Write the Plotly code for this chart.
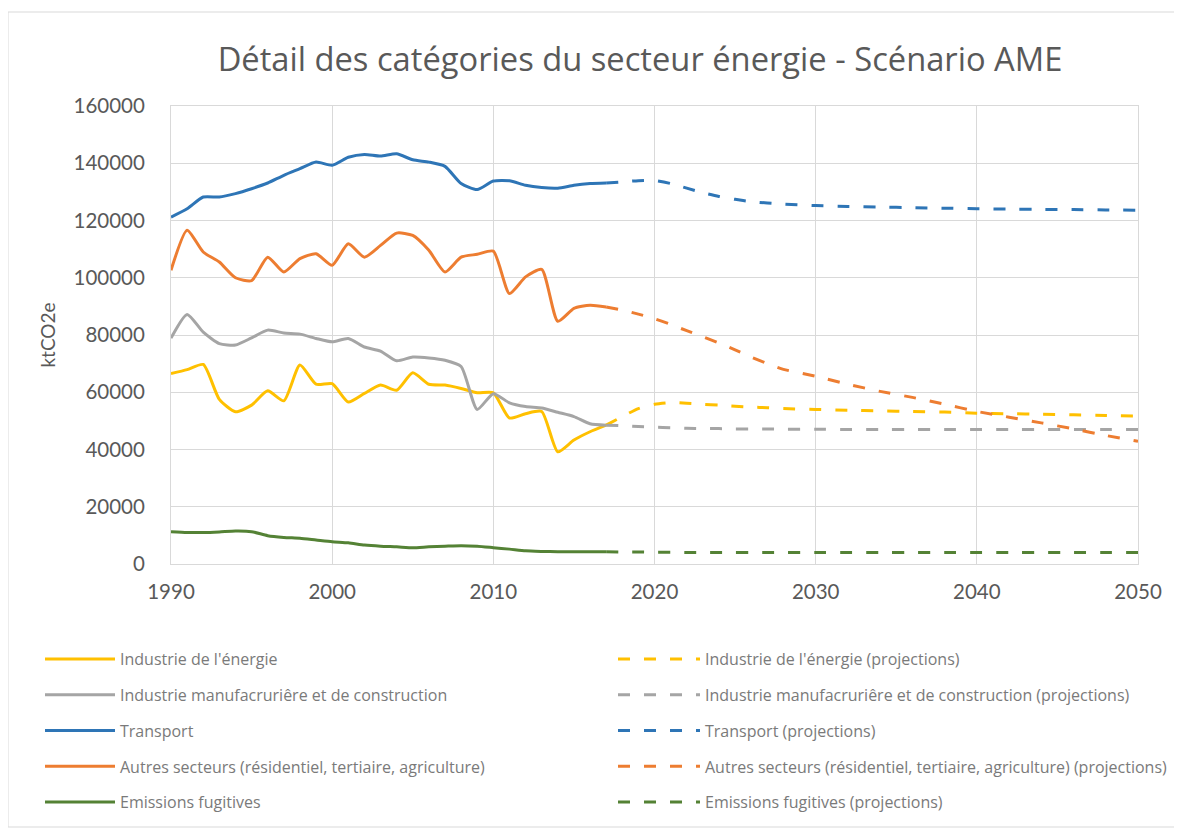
import plotly.graph_objects as go

years_hist = list(range(1990, 2018))
years_proj = [2017, 2018, 2019, 2020, 2021, 2022, 2023, 2024, 2025, 2026, 2027, 2028,
              2030, 2032, 2034, 2036, 2038, 2040, 2042, 2044, 2046, 2048, 2050]

energie_hist = [66500, 67900, 69700, 57500, 53200, 55500, 60500, 57000, 69500, 62800,
                63000, 56600, 59600, 62500, 60700, 66800, 62800, 62500, 61300, 59800,
                59800, 51000, 52500, 53300, 39200, 43300, 46200, 48500]
manuf_hist = [78900, 87200, 81000, 77000, 76500, 79000, 81700, 80700, 80300, 78800,
              77600, 78800, 75800, 74400, 71000, 72300, 72000, 71200, 69000, 54000,
              59500, 56300, 55000, 54500, 53000, 51500, 49000, 48500]
transport_hist = [121200, 124100, 128200, 128200, 129400, 131100, 133100, 135800, 138100, 140400,
                  139300, 142100, 143100, 142500, 143300, 141200, 140400, 138900, 132900, 130800,
                  133800, 133900, 132300, 131500, 131300, 132300, 132900, 133100]
autres_hist = [102600, 116600, 109000, 105500, 100000, 99000, 107200, 102000, 106700, 108400,
               104400, 111900, 107200, 111300, 115600, 114800, 109600, 102000, 107200, 108200,
               109300, 94500, 100300, 102900, 84800, 89300, 90400, 89800]
fugitives_hist = [11300, 11000, 11000, 11200, 11500, 11300, 9900, 9300, 9000, 8400,
                  7800, 7400, 6600, 6200, 6000, 5700, 6000, 6200, 6400, 6200,
                  5700, 5200, 4600, 4400, 4300, 4300, 4300, 4300]

energie_proj = [48500, 51500, 54300, 55800, 56400, 56200, 55800, 55500, 55100, 54800, 54600, 54300,
                54000, 53700, 53500, 53300, 53100, 52700, 52500, 52300, 52100, 51900, 51700]
manuf_proj = [48500, 48300, 48000, 47800, 47600, 47400, 47300, 47300, 47200, 47200, 47200, 47100,
              47100, 47000, 47000, 47000, 47000, 47000, 47000, 47000, 47000, 47000, 47000]
transport_proj = [133100, 133500, 133900, 134000, 132900, 131300, 129700, 128400, 127400, 126600, 126100, 125700,
                  125200, 124900, 124700, 124500, 124300, 124100, 124000, 123900, 123800, 123700, 123600]
autres_proj = [89800, 88700, 87300, 85700, 83700, 81500, 79400, 77200, 74800, 72300, 70000, 68000,
               65600, 62800, 60300, 58200, 55800, 53300, 51300, 49300, 47200, 44900, 42900]
fugitives_proj = [4300, 4200, 4200, 4100, 4100, 4000, 4000, 4000, 4000, 4000, 4000, 4000,
                  4000, 4000, 4000, 4000, 4000, 4000, 4000, 4000, 4000, 4000, 4000]

names = ["Industrie de l'énergie",
         "Industrie manufacruriêre et de construction",
         "Transport",
         "Autres secteurs (résidentiel, tertiaire, agriculture)",
         "Emissions fugitives"]
colors = ["#FFC000", "#A5A5A5", "#2E75B6", "#ED7D31", "#548235"]
hist = [energie_hist, manuf_hist, transport_hist, autres_hist, fugitives_hist]
proj = [energie_proj, manuf_proj, transport_proj, autres_proj, fugitives_proj]

fig = go.Figure()
for i in range(5):
    fig.add_trace(go.Scatter(
        x=years_hist, y=hist[i], name=names[i], mode="lines",
        line=dict(color=colors[i], width=3, shape="spline", smoothing=0.6),
        legend="legend", legendgroup="h%d" % i, legendrank=i))
for i in range(5):
    fig.add_trace(go.Scatter(
        x=years_proj, y=proj[i], name=names[i] + " (projections)", mode="lines",
        line=dict(color=colors[i], width=3, shape="spline", smoothing=0.6, dash="12px,14px"),
        legend="legend2", legendgroup="p%d" % i, legendrank=i))

# target positions are given in screen pixels; the page body adds an 8px offset
OFF = 8
L, R, T, B = 171 - OFF, 44 + OFF, 106 - OFF, 265 + OFF
W, H = 1182, 829
pw, ph = W - L - R, H - T - B

def px_x(px):
    return (px - OFF - L) / pw

def px_y(py):
    return (H - B - (py - OFF)) / ph

legend_font = dict(family="Open Sans, sans-serif", size=16, color="#7A7A7A")
fig.update_layout(
    width=W, height=H,
    margin=dict(l=L, r=R, t=T, b=B, autoexpand=False),
    paper_bgcolor="white", plot_bgcolor="white",
    title=dict(text="Détail des catégories du secteur énergie - Scénario AME",
               font=dict(family="Open Sans, sans-serif", size=32.7, color="#595959"),
               x=(640 - OFF) / W, xanchor="center", xref="container",
               y=1 - (60 - OFF) / H, yanchor="middle", yref="container"),
    xaxis=dict(range=[1990, 2050], dtick=10, tick0=1990,
               showgrid=True, gridcolor="#D9D9D9", gridwidth=1,
               showline=True, linecolor="#D9D9D9", mirror=True,
               zeroline=False, ticks="", ticklabelstandoff=9,
               tickfont=dict(family="Lato, sans-serif", size=20.5, color="#595959")),
    yaxis=dict(range=[0, 160000], dtick=20000, tickformat="d",
               showgrid=True, gridcolor="#D9D9D9", gridwidth=1,
               showline=True, linecolor="#D9D9D9", mirror=True,
               zeroline=False, ticks="", ticklabelstandoff=21,
               tickfont=dict(family="Lato, sans-serif", size=20.5, color="#595959"),
               title=dict(text="ktCO2e", standoff=12,
                          font=dict(family="Lato, sans-serif", size=19, color="#595959"))),
    legend=dict(x=px_x(40), y=px_y(642), xanchor="left", yanchor="top",
                orientation="v", traceorder="grouped", tracegroupgap=12,
                itemwidth=70, font=legend_font, bgcolor="rgba(0,0,0,0)"),
    legend2=dict(x=px_x(613), y=px_y(642), xanchor="left", yanchor="top",
                 orientation="v", traceorder="grouped", tracegroupgap=12,
                 itemwidth=82, font=legend_font, bgcolor="rgba(0,0,0,0)"),
    shapes=[dict(type="rect", xref="paper", yref="paper",
                 x0=px_x(8), x1=px_x(1179), y0=px_y(827), y1=px_y(12),
                 line=dict(color="#D9D9D9", width=1), layer="below")],
)

fig.write_html("out.html")
